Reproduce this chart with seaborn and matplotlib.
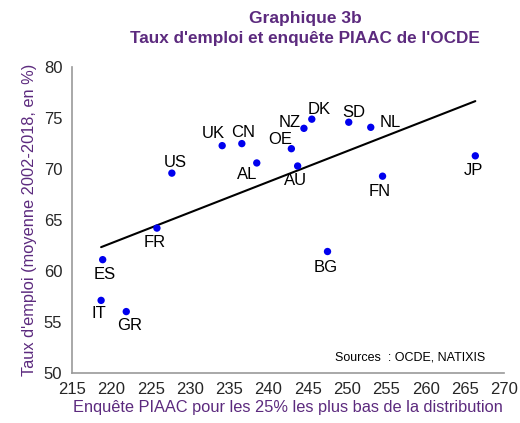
import numpy as np
import pandas as pd
import matplotlib
matplotlib.use("Agg")
import matplotlib.pyplot as plt
import seaborn as sns

# values
pays = ['ES', 'IT', 'GR', 'FR', 'US', 'UK', 'CN', 'AL', 'OE', 'AU',
        'NZ', 'DK', 'SD', 'NL', 'FN', 'JP', 'BG']
piaac = [218.9, 218.7, 221.9, 225.8, 227.7, 234.1, 236.6, 238.5, 242.9, 243.7,
         244.5, 245.5, 250.2, 253.0, 254.5, 266.3, 247.5]
emploi = [61.1, 57.1, 56.0, 64.2, 69.6, 72.3, 72.5, 70.6, 72.0, 70.3,
          74.0, 74.9, 74.6, 74.1, 69.3, 71.3, 61.9]
x_ticks = list(range(215, 271, 5))
y_ticks = list(range(50, 81, 5))

# label offsets (pixels) for each country tag
offsets = {'ES': (2, -15), 'IT': (-2, -13), 'GR': (3, -14), 'FR': (-2, -14),
           'US': (3, 11), 'UK': (-9, 12), 'CN': (1, 11), 'AL': (-10, -12),
           'OE': (-11, 9), 'AU': (-2, -14), 'NZ': (-14, 6), 'DK': (7, 10),
           'SD': (5, 10), 'NL': (19, 5), 'FN': (-3, -15), 'JP': (-2, -15),
           'BG': (-2, -16)}

df = pd.DataFrame({'pays': pays, 'piaac': piaac, 'emploi': emploi})

sns.set_style("white")
plt.rcParams['font.family'] = ['Liberation Sans', 'DejaVu Sans']
purple = '#5c2a7e'

fig = plt.figure(figsize=(5.2, 4.23), dpi=100)
ax = fig.add_axes([0.1385, 0.119, 0.8315, 0.722])

sns.regplot(data=df, x='piaac', y='emploi', scatter=False, ci=None,
            color='black', line_kws={'lw': 1.5}, ax=ax)
sns.scatterplot(data=df, x='piaac', y='emploi', color='#0000ee', s=28,
                edgecolor='none', ax=ax, zorder=3)

for p, xv, yv in zip(pays, piaac, emploi):
    dx, dy = offsets[p]
    ax.annotate(p, (xv, yv), xytext=(dx, dy), textcoords='offset pixels',
                ha='center', va='center', fontsize=12, color='black')

ax.set_xlim(215, 270)
ax.set_ylim(50, 80)
ax.set_xticks(x_ticks)
ax.set_yticks(y_ticks)
ax.tick_params(axis='both', labelsize=12, length=4, width=1, color='#999999',
               direction='out', pad=3)
for s in ['top', 'right']:
    ax.spines[s].set_visible(False)
for s in ['left', 'bottom']:
    ax.spines[s].set_color('#999999')
    ax.spines[s].set_linewidth(1.2)

ax.set_xlabel('Enquête PIAAC pour les 25% les plus bas de la distribution',
              fontsize=11.8, color=purple, labelpad=2)
ax.set_ylabel("Taux d'emploi (moyenne 2002-2018, en %)", fontsize=11.8,
              color=purple, labelpad=5)

fig.text(0.587, 0.956, 'Graphique 3b', ha='center', va='center',
         fontsize=12.5, fontweight='bold', color=purple)
fig.text(0.587, 0.908, "Taux d'emploi et enquête PIAAC de l'OCDE", ha='center',
         va='center', fontsize=12.3, fontweight='bold', color=purple)
ax.text(0.955, 0.05, 'Sources  : OCDE, NATIXIS', transform=ax.transAxes,
        ha='right', va='center', fontsize=9, color='black')

fig.savefig('out.png', dpi=100)
